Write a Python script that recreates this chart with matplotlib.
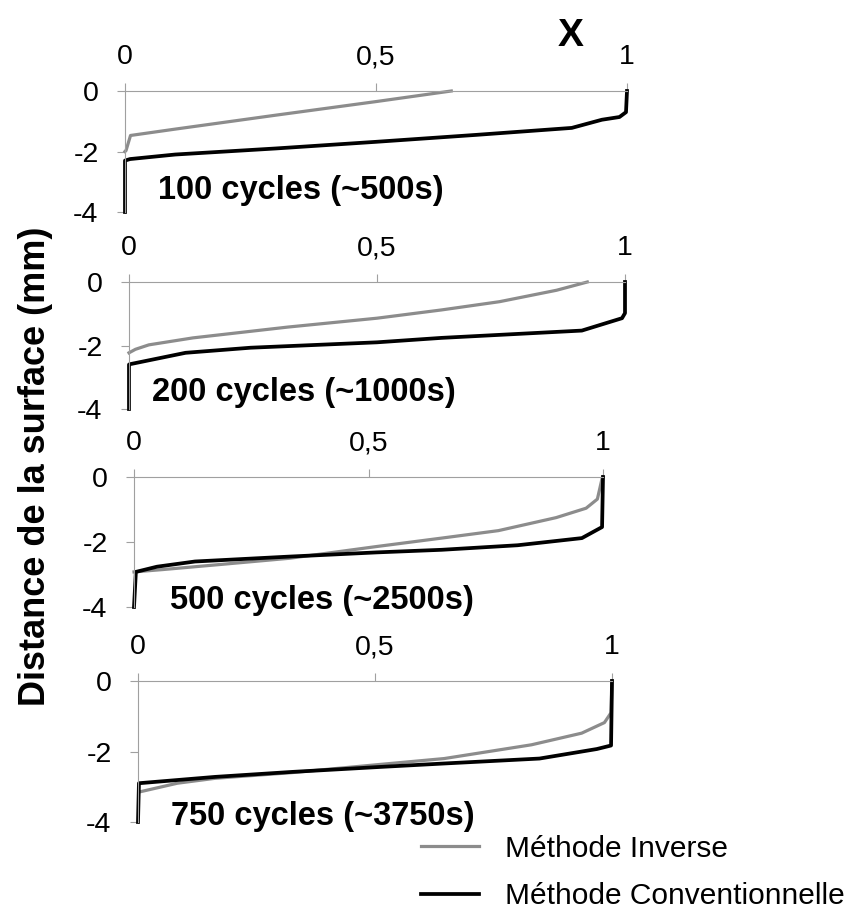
import matplotlib
matplotlib.use('Agg')
import matplotlib.pyplot as plt

plt.rcParams['font.family'] = ['Liberation Sans', 'DejaVu Sans']

# x = X (fraction), y = distance from surface (mm)
labels = ['100 cycles (~500s)', '200 cycles (~1000s)',
          '500 cycles (~2500s)', '750 cycles (~3750s)']

inv_x = [
    [0.65, 0.5, 0.3, 0.1, 0.011, 0.002, 0.0],
    [0.924, 0.862, 0.747, 0.63, 0.5, 0.32, 0.129, 0.04, 0.013, 0.0],
    [1.0, 0.998, 0.988, 0.964, 0.9, 0.777, 0.656, 0.517, 0.332, 0.17, 0.06, 0.0],
    [1.0, 0.998, 0.984, 0.936, 0.83, 0.646, 0.508, 0.324, 0.163, 0.083, 0.002],
]
inv_y = [
    [0.0, -0.35, -0.8, -1.26, -1.47, -1.97, -2.0],
    [0.0, -0.26, -0.62, -0.88, -1.14, -1.42, -1.76, -1.98, -2.12, -2.23],
    [0.0, -0.05, -0.68, -0.96, -1.25, -1.65, -1.88, -2.14, -2.5, -2.71, -2.85, -2.92],
    [0.0, -0.9, -1.18, -1.48, -1.81, -2.2, -2.37, -2.6, -2.76, -2.9, -3.15],
]
conv_x = [
    [1.0, 0.998, 0.985, 0.95, 0.89, 0.7, 0.5, 0.3, 0.1, 0.01, 0.0, 0.0],
    [1.0, 1.0, 0.994, 0.913, 0.63, 0.5, 0.245, 0.114, 0.0015, 0.0, 0.0],
    [1.0, 0.998, 0.955, 0.818, 0.656, 0.517, 0.33, 0.13, 0.049, 0.004, 0.0],
    [1.0, 0.998, 0.968, 0.847, 0.646, 0.508, 0.324, 0.163, 0.002, 0.0],
]
conv_y = [
    [0.0, -0.7, -0.86, -0.95, -1.22, -1.45, -1.68, -1.9, -2.1, -2.25, -2.3, -4.0],
    [0.0, -0.98, -1.14, -1.53, -1.76, -1.9, -2.07, -2.23, -2.59, -2.6, -4.0],
    [0.0, -1.54, -1.88, -2.1, -2.24, -2.32, -2.45, -2.6, -2.76, -2.92, -4.0],
    [0.0, -1.83, -1.93, -2.2, -2.34, -2.44, -2.58, -2.72, -2.9, -4.0],
]

xticks = [0, 0.5, 1]
xticklabels = ['0', '0,5', '1']
yticks = [0, -2, -4]
yticklabels = ['0', '-2', '-4']

# panel boxes in pixels: left, right, top (y=0), bottom (y=-4)
W, H = 849, 914
boxes = [(125, 627, 91, 212), (129, 625, 282, 409),
         (134, 603, 477, 607), (138, 612, 681, 822)]
txt_pos = [(158, 190), (152, 392), (170, 600), (171, 817)]

axis_col = '#a0a0a0'
inv_col = '#8c8c8c'

fig = plt.figure(figsize=(W / 100, H / 100), dpi=100)

axes = []
for i in range(4):
    l, r, t, b = boxes[i]
    ax = fig.add_axes([l / W, 1 - b / H, (r - l) / W, (b - t) / H])
    ax.set_xlim(0, 1)
    ax.set_ylim(-4, 0)
    ax.plot(inv_x[i], inv_y[i], color=inv_col, lw=2.3, label='Méthode Inverse',
            solid_joinstyle='round', clip_on=False)
    ax.plot(conv_x[i], conv_y[i], color='black', lw=2.7,
            label='Méthode Conventionnelle', solid_joinstyle='round', clip_on=False)
    ax.spines['right'].set_visible(False)
    ax.spines['bottom'].set_visible(False)
    for s in ['left', 'top']:
        ax.spines[s].set_color(axis_col)
        ax.spines[s].set_linewidth(0.8)
    ax.xaxis.tick_top()
    ax.set_xticks(xticks)
    ax.set_xticklabels(xticklabels)
    ax.set_yticks(yticks)
    ax.set_yticklabels(yticklabels)
    ax.tick_params(axis='both', colors=axis_col, labelcolor='black',
                   labelsize=20.5, length=6, width=0.8)
    ax.tick_params(axis='x', pad=9)
    ax.tick_params(axis='y', pad=13)
    ax.patch.set_visible(False)
    fig.text(txt_pos[i][0] / W, 1 - txt_pos[i][1] / H, labels[i],
             fontsize=23.5, fontweight='bold', ha='left', va='center')
    axes.append(ax)

fig.text(571 / W, 1 - 36 / H, 'X', fontsize=28, fontweight='bold',
         ha='center', va='center')
fig.text(36 / W, 1 - 466 / H, 'Distance de la surface (mm)', fontsize=26,
         fontweight='bold', rotation=90, ha='center', va='center')

handles, leg_labels = axes[0].get_legend_handles_labels()
fig.legend(handles, leg_labels, loc='lower left',
           bbox_to_anchor=(421 / W, 1 - 910 / H), frameon=False,
           borderpad=0, borderaxespad=0,
           fontsize=21.5, handlelength=1.95, labelspacing=0.65, handletextpad=0.85)

fig.savefig('out.png', dpi=100)
